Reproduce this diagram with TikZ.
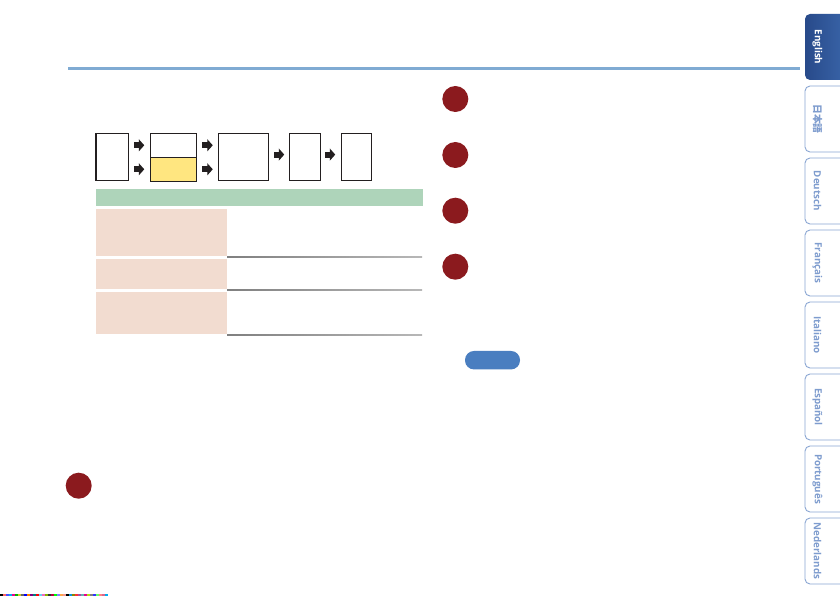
\documentclass[tikz,border=0pt]{standalone}
\usepackage{fontspec}
\setmainfont{Open Sans}
\newfontfamily\jpfont{Noto Sans CJK JP}
\usetikzlibrary{arrows.meta}
\definecolor{rulblue}{HTML}{80ABD3}
\definecolor{boxline}{HTML}{231F20}
\definecolor{yel}{HTML}{FFE680}
\definecolor{hdrgreen}{HTML}{AED4BA}
\definecolor{pink}{HTML}{F2DCD0}
\definecolor{dotred}{HTML}{8B1A1E}
\definecolor{pillblue}{HTML}{4A7EC0}
\definecolor{tabline}{HTML}{8AA6D3}
\definecolor{tabtext}{HTML}{7E9CCE}
\definecolor{tabdarkL}{HTML}{284A8A}
\definecolor{tabdarkR}{HTML}{3D6AAF}
\tikzset{
  fbox/.style={draw=boxline, line width=1.1pt, inner sep=0pt, rectangle},
  blk/.style={draw=boxline, line width=6pt, -{Triangle[length=5.5pt,width=12pt]}},
  cell/.style={fill=pink, inner sep=0pt, minimum width=131pt},
  reddot/.style={circle, fill=dotred, minimum size=26pt, inner sep=0pt},
  tabshape/.style={draw=tabline, line width=0.9pt, rounded corners=5pt, minimum width=50pt, minimum height=66pt, inner sep=0pt, fill=white},
  tabtxt/.style={rotate=-90, text=tabtext, font=\bfseries\fontsize{9.8}{11}\selectfont, inner sep=0pt},
}
\begin{document}
\begin{tikzpicture}[x=1pt,y=-1pt]
\useasboundingbox (0,0) rectangle (840,596);
\clip (0,0) rectangle (840,596);
\fill[white] (0,0) rectangle (840,596);

% top rule
\fill[rulblue] (68,67.5) rectangle (800,70.5);

% flow boxes
\node[fbox, minimum width=32.7pt, minimum height=47pt] (b1) at (112.35,156.8) {};
\node[fbox, minimum width=46pt, minimum height=24pt] (b2top) at (173.3,145.3) {};
\node[fbox, fill=yel, minimum width=46pt, minimum height=24pt] (b2bot) at (173.3,169.3) {};
\node[fbox, minimum width=50.4pt, minimum height=47pt] (b3) at (243.5,156.8) {};
\node[fbox, minimum width=31pt, minimum height=47pt] (b4) at (304.8,156.8) {};
\node[fbox, minimum width=30pt, minimum height=47pt] (b5) at (356.3,156.8) {};

% block arrows
\draw[blk, shorten <=5pt, shorten >=5.5pt] (b1.east |- b2top.west) -- (b2top.west);
\draw[blk, shorten <=5pt, shorten >=5.5pt] (b1.east |- b2bot.west) -- (b2bot.west);
\draw[blk, shorten <=5.5pt, shorten >=5pt] (b2top.east) -- (b3.west |- b2top.east);
\draw[blk, shorten <=5.5pt, shorten >=5pt] (b2bot.east) -- (b3.west |- b2bot.east);
\draw[blk, shorten <=5pt, shorten >=4.5pt] ([yshift=2.2pt]b3.east) -- ([yshift=2.2pt]b4.west);
\draw[blk, shorten <=4.5pt, shorten >=5.5pt] ([yshift=2.2pt]b4.east) -- ([yshift=2.2pt]b5.west);

% table
\node[fill=hdrgreen, inner sep=0pt, minimum width=326.5pt, minimum height=17pt] (hdr) at (259.25,197.5) {};
\node[cell, minimum height=47pt] (c1) at (161.5,232.5) {};
\node[cell, minimum height=30pt] (c2) at (161.5,274) {};
\node[cell, minimum height=42pt] (c3) at (161.5,313) {};
\foreach \yy in {257.3,290.3,335.3}
  \shade[left color=black!50, right color=black!28] (227,\yy-0.6) rectangle (422,\yy+0.6);

% red dots
\node[reddot] (d1) at (455.3,99) {};
\node[reddot] (d2) at (455.3,155) {};
\node[reddot] (d3) at (455.3,210.7) {};
\node[reddot] (d4) at (455.3,266.7) {};
\node[reddot] (d5) at (78.7,485.7) {};

% blue pill
\node[fill=pillblue, rounded corners=9pt, minimum width=55pt, minimum height=18.5pt, inner sep=0pt] (pill) at (492.5,360.2) {};

% language tabs
\node[tabshape, draw=none, left color=tabdarkL, right color=tabdarkR] (t1) at (830,47) {};
\node[tabtxt, text=white] (l1) at (817.5,47) {English};
\foreach \yc/\name [count=\i from 2] in {119/{\jpfont 日本語}, 191/Deutsch, 263/Français, 335/Italiano, 407/Español, 479/Português, 551/Nederlands}{
  \node[tabshape] (t\i) at (830,\yc) {};
  \node[tabtxt] (l\i) at (817.5,\yc) {\name};
}

% printer colour strip
\foreach \c [count=\k from 0] in {black,red!60,blue!70,cyan,magenta,green!70!black,yellow!80!black,black!60,blue,orange,violet,teal,red,cyan!60,magenta!60,lime!70!black,black!80,purple,green,blue!50,orange!70,pink!70!red,black,cyan!80!blue,olive,red!80,violet!70,teal!60,magenta,yellow!70!green,black!50,blue!80,green!60,red!50,purple!60,cyan}
  \fill[\c] (\k*3,594.2) rectangle (\k*3+3,596);
\end{tikzpicture}
\end{document}
